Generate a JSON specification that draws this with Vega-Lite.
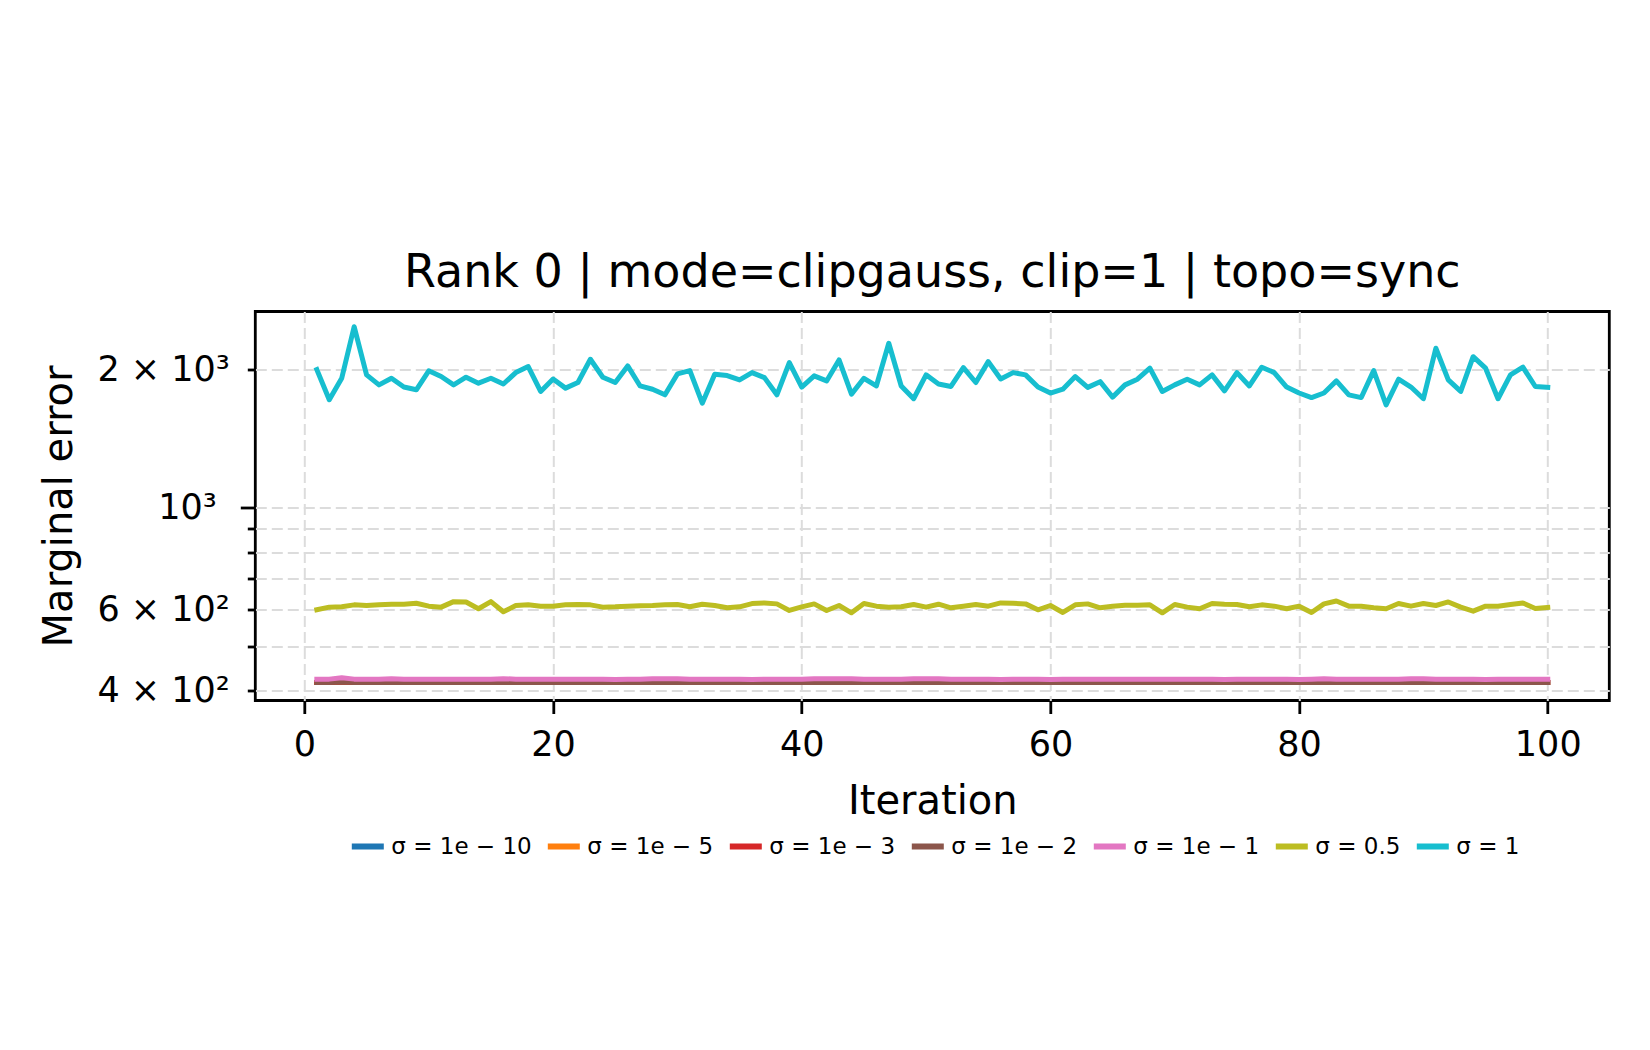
{
"$schema": "https://vega.github.io/schema/vega-lite/v6.json",
"width": 1354, "height": 389,
"autosize": {"type": "none"},
"padding": {"left": 255.3, "top": 311.5, "right": 40.7, "bottom": 349.5},
"background": "white",
"title": {"text": "Rank 0 | mode=clipgauss, clip=1 | topo=sync", "font": "DejaVu Sans", "fontSize": 46, "fontWeight": "normal", "color": "black", "anchor": "middle", "baseline": "alphabetic", "offset": -21.5},
"config": {"view": {"stroke": "black", "strokeWidth": 2.8}, "font": "DejaVu Sans"},
"datasets": {
"d": [
{"i":1,"s":"σ = 1e − 10","v":417},{"i":2,"s":"σ = 1e − 10","v":417},{"i":3,"s":"σ = 1e − 10","v":418},{"i":4,"s":"σ = 1e − 10","v":417},{"i":5,"s":"σ = 1e − 10","v":417},{"i":6,"s":"σ = 1e − 10","v":417},{"i":7,"s":"σ = 1e − 10","v":417},{"i":8,"s":"σ = 1e − 10","v":417},{"i":9,"s":"σ = 1e − 10","v":417},{"i":10,"s":"σ = 1e − 10","v":417},
{"i":11,"s":"σ = 1e − 10","v":417},{"i":12,"s":"σ = 1e − 10","v":417},{"i":13,"s":"σ = 1e − 10","v":417},{"i":14,"s":"σ = 1e − 10","v":417},{"i":15,"s":"σ = 1e − 10","v":417},{"i":16,"s":"σ = 1e − 10","v":417},{"i":17,"s":"σ = 1e − 10","v":417},{"i":18,"s":"σ = 1e − 10","v":417},{"i":19,"s":"σ = 1e − 10","v":417},{"i":20,"s":"σ = 1e − 10","v":417},
{"i":21,"s":"σ = 1e − 10","v":417},{"i":22,"s":"σ = 1e − 10","v":417},{"i":23,"s":"σ = 1e − 10","v":417},{"i":24,"s":"σ = 1e − 10","v":417},{"i":25,"s":"σ = 1e − 10","v":417},{"i":26,"s":"σ = 1e − 10","v":417},{"i":27,"s":"σ = 1e − 10","v":417},{"i":28,"s":"σ = 1e − 10","v":417},{"i":29,"s":"σ = 1e − 10","v":417},{"i":30,"s":"σ = 1e − 10","v":417},
{"i":31,"s":"σ = 1e − 10","v":417},{"i":32,"s":"σ = 1e − 10","v":417},{"i":33,"s":"σ = 1e − 10","v":417},{"i":34,"s":"σ = 1e − 10","v":417},{"i":35,"s":"σ = 1e − 10","v":417},{"i":36,"s":"σ = 1e − 10","v":417},{"i":37,"s":"σ = 1e − 10","v":417},{"i":38,"s":"σ = 1e − 10","v":417},{"i":39,"s":"σ = 1e − 10","v":417},{"i":40,"s":"σ = 1e − 10","v":417},
{"i":41,"s":"σ = 1e − 10","v":417},{"i":42,"s":"σ = 1e − 10","v":417},{"i":43,"s":"σ = 1e − 10","v":417},{"i":44,"s":"σ = 1e − 10","v":417},{"i":45,"s":"σ = 1e − 10","v":417},{"i":46,"s":"σ = 1e − 10","v":417},{"i":47,"s":"σ = 1e − 10","v":417},{"i":48,"s":"σ = 1e − 10","v":417},{"i":49,"s":"σ = 1e − 10","v":417},{"i":50,"s":"σ = 1e − 10","v":417},
{"i":51,"s":"σ = 1e − 10","v":417},{"i":52,"s":"σ = 1e − 10","v":417},{"i":53,"s":"σ = 1e − 10","v":417},{"i":54,"s":"σ = 1e − 10","v":417},{"i":55,"s":"σ = 1e − 10","v":417},{"i":56,"s":"σ = 1e − 10","v":417},{"i":57,"s":"σ = 1e − 10","v":417},{"i":58,"s":"σ = 1e − 10","v":417},{"i":59,"s":"σ = 1e − 10","v":417},{"i":60,"s":"σ = 1e − 10","v":417},
{"i":61,"s":"σ = 1e − 10","v":417},{"i":62,"s":"σ = 1e − 10","v":417},{"i":63,"s":"σ = 1e − 10","v":417},{"i":64,"s":"σ = 1e − 10","v":417},{"i":65,"s":"σ = 1e − 10","v":417},{"i":66,"s":"σ = 1e − 10","v":417},{"i":67,"s":"σ = 1e − 10","v":417},{"i":68,"s":"σ = 1e − 10","v":417},{"i":69,"s":"σ = 1e − 10","v":417},{"i":70,"s":"σ = 1e − 10","v":417},
{"i":71,"s":"σ = 1e − 10","v":417},{"i":72,"s":"σ = 1e − 10","v":417},{"i":73,"s":"σ = 1e − 10","v":417},{"i":74,"s":"σ = 1e − 10","v":417},{"i":75,"s":"σ = 1e − 10","v":417},{"i":76,"s":"σ = 1e − 10","v":417},{"i":77,"s":"σ = 1e − 10","v":417},{"i":78,"s":"σ = 1e − 10","v":417},{"i":79,"s":"σ = 1e − 10","v":417},{"i":80,"s":"σ = 1e − 10","v":417},
{"i":81,"s":"σ = 1e − 10","v":417},{"i":82,"s":"σ = 1e − 10","v":417},{"i":83,"s":"σ = 1e − 10","v":417},{"i":84,"s":"σ = 1e − 10","v":417},{"i":85,"s":"σ = 1e − 10","v":417},{"i":86,"s":"σ = 1e − 10","v":417},{"i":87,"s":"σ = 1e − 10","v":417},{"i":88,"s":"σ = 1e − 10","v":417},{"i":89,"s":"σ = 1e − 10","v":417},{"i":90,"s":"σ = 1e − 10","v":417},
{"i":91,"s":"σ = 1e − 10","v":417},{"i":92,"s":"σ = 1e − 10","v":417},{"i":93,"s":"σ = 1e − 10","v":417},{"i":94,"s":"σ = 1e − 10","v":417},{"i":95,"s":"σ = 1e − 10","v":417},{"i":96,"s":"σ = 1e − 10","v":417},{"i":97,"s":"σ = 1e − 10","v":417},{"i":98,"s":"σ = 1e − 10","v":417},{"i":99,"s":"σ = 1e − 10","v":417},{"i":100,"s":"σ = 1e − 10","v":417},
{"i":1,"s":"σ = 1e − 5","v":417},{"i":2,"s":"σ = 1e − 5","v":417},{"i":3,"s":"σ = 1e − 5","v":418},{"i":4,"s":"σ = 1e − 5","v":417},{"i":5,"s":"σ = 1e − 5","v":417},{"i":6,"s":"σ = 1e − 5","v":417},{"i":7,"s":"σ = 1e − 5","v":417},{"i":8,"s":"σ = 1e − 5","v":417},{"i":9,"s":"σ = 1e − 5","v":417},{"i":10,"s":"σ = 1e − 5","v":417},
{"i":11,"s":"σ = 1e − 5","v":417},{"i":12,"s":"σ = 1e − 5","v":417},{"i":13,"s":"σ = 1e − 5","v":417},{"i":14,"s":"σ = 1e − 5","v":417},{"i":15,"s":"σ = 1e − 5","v":417},{"i":16,"s":"σ = 1e − 5","v":417},{"i":17,"s":"σ = 1e − 5","v":417},{"i":18,"s":"σ = 1e − 5","v":417},{"i":19,"s":"σ = 1e − 5","v":417},{"i":20,"s":"σ = 1e − 5","v":417},
{"i":21,"s":"σ = 1e − 5","v":417},{"i":22,"s":"σ = 1e − 5","v":417},{"i":23,"s":"σ = 1e − 5","v":417},{"i":24,"s":"σ = 1e − 5","v":417},{"i":25,"s":"σ = 1e − 5","v":417},{"i":26,"s":"σ = 1e − 5","v":417},{"i":27,"s":"σ = 1e − 5","v":417},{"i":28,"s":"σ = 1e − 5","v":417},{"i":29,"s":"σ = 1e − 5","v":417},{"i":30,"s":"σ = 1e − 5","v":417},
{"i":31,"s":"σ = 1e − 5","v":417},{"i":32,"s":"σ = 1e − 5","v":417},{"i":33,"s":"σ = 1e − 5","v":417},{"i":34,"s":"σ = 1e − 5","v":417},{"i":35,"s":"σ = 1e − 5","v":417},{"i":36,"s":"σ = 1e − 5","v":417},{"i":37,"s":"σ = 1e − 5","v":417},{"i":38,"s":"σ = 1e − 5","v":417},{"i":39,"s":"σ = 1e − 5","v":417},{"i":40,"s":"σ = 1e − 5","v":417},
{"i":41,"s":"σ = 1e − 5","v":417},{"i":42,"s":"σ = 1e − 5","v":417},{"i":43,"s":"σ = 1e − 5","v":417},{"i":44,"s":"σ = 1e − 5","v":417},{"i":45,"s":"σ = 1e − 5","v":417},{"i":46,"s":"σ = 1e − 5","v":417},{"i":47,"s":"σ = 1e − 5","v":417},{"i":48,"s":"σ = 1e − 5","v":417},{"i":49,"s":"σ = 1e − 5","v":417},{"i":50,"s":"σ = 1e − 5","v":417},
{"i":51,"s":"σ = 1e − 5","v":417},{"i":52,"s":"σ = 1e − 5","v":417},{"i":53,"s":"σ = 1e − 5","v":417},{"i":54,"s":"σ = 1e − 5","v":417},{"i":55,"s":"σ = 1e − 5","v":417},{"i":56,"s":"σ = 1e − 5","v":417},{"i":57,"s":"σ = 1e − 5","v":417},{"i":58,"s":"σ = 1e − 5","v":417},{"i":59,"s":"σ = 1e − 5","v":417},{"i":60,"s":"σ = 1e − 5","v":417},
{"i":61,"s":"σ = 1e − 5","v":417},{"i":62,"s":"σ = 1e − 5","v":417},{"i":63,"s":"σ = 1e − 5","v":417},{"i":64,"s":"σ = 1e − 5","v":417},{"i":65,"s":"σ = 1e − 5","v":417},{"i":66,"s":"σ = 1e − 5","v":417},{"i":67,"s":"σ = 1e − 5","v":417},{"i":68,"s":"σ = 1e − 5","v":417},{"i":69,"s":"σ = 1e − 5","v":417},{"i":70,"s":"σ = 1e − 5","v":417},
{"i":71,"s":"σ = 1e − 5","v":417},{"i":72,"s":"σ = 1e − 5","v":417},{"i":73,"s":"σ = 1e − 5","v":417},{"i":74,"s":"σ = 1e − 5","v":417},{"i":75,"s":"σ = 1e − 5","v":417},{"i":76,"s":"σ = 1e − 5","v":417},{"i":77,"s":"σ = 1e − 5","v":417},{"i":78,"s":"σ = 1e − 5","v":417},{"i":79,"s":"σ = 1e − 5","v":417},{"i":80,"s":"σ = 1e − 5","v":417},
{"i":81,"s":"σ = 1e − 5","v":417},{"i":82,"s":"σ = 1e − 5","v":417},{"i":83,"s":"σ = 1e − 5","v":417},{"i":84,"s":"σ = 1e − 5","v":417},{"i":85,"s":"σ = 1e − 5","v":417},{"i":86,"s":"σ = 1e − 5","v":417},{"i":87,"s":"σ = 1e − 5","v":417},{"i":88,"s":"σ = 1e − 5","v":417},{"i":89,"s":"σ = 1e − 5","v":417},{"i":90,"s":"σ = 1e − 5","v":417},
{"i":91,"s":"σ = 1e − 5","v":417},{"i":92,"s":"σ = 1e − 5","v":417},{"i":93,"s":"σ = 1e − 5","v":417},{"i":94,"s":"σ = 1e − 5","v":417},{"i":95,"s":"σ = 1e − 5","v":417},{"i":96,"s":"σ = 1e − 5","v":417},{"i":97,"s":"σ = 1e − 5","v":417},{"i":98,"s":"σ = 1e − 5","v":417},{"i":99,"s":"σ = 1e − 5","v":417},{"i":100,"s":"σ = 1e − 5","v":417},
{"i":1,"s":"σ = 1e − 3","v":417},{"i":2,"s":"σ = 1e − 3","v":417},{"i":3,"s":"σ = 1e − 3","v":418},{"i":4,"s":"σ = 1e − 3","v":417},{"i":5,"s":"σ = 1e − 3","v":417},{"i":6,"s":"σ = 1e − 3","v":417},{"i":7,"s":"σ = 1e − 3","v":417},{"i":8,"s":"σ = 1e − 3","v":417},{"i":9,"s":"σ = 1e − 3","v":417},{"i":10,"s":"σ = 1e − 3","v":417},
{"i":11,"s":"σ = 1e − 3","v":417},{"i":12,"s":"σ = 1e − 3","v":417},{"i":13,"s":"σ = 1e − 3","v":417},{"i":14,"s":"σ = 1e − 3","v":417},{"i":15,"s":"σ = 1e − 3","v":417},{"i":16,"s":"σ = 1e − 3","v":417},{"i":17,"s":"σ = 1e − 3","v":417},{"i":18,"s":"σ = 1e − 3","v":417},{"i":19,"s":"σ = 1e − 3","v":417},{"i":20,"s":"σ = 1e − 3","v":417},
{"i":21,"s":"σ = 1e − 3","v":417},{"i":22,"s":"σ = 1e − 3","v":417},{"i":23,"s":"σ = 1e − 3","v":417},{"i":24,"s":"σ = 1e − 3","v":417},{"i":25,"s":"σ = 1e − 3","v":417},{"i":26,"s":"σ = 1e − 3","v":417},{"i":27,"s":"σ = 1e − 3","v":417},{"i":28,"s":"σ = 1e − 3","v":417},{"i":29,"s":"σ = 1e − 3","v":417},{"i":30,"s":"σ = 1e − 3","v":417},
{"i":31,"s":"σ = 1e − 3","v":417},{"i":32,"s":"σ = 1e − 3","v":417},{"i":33,"s":"σ = 1e − 3","v":417},{"i":34,"s":"σ = 1e − 3","v":417},{"i":35,"s":"σ = 1e − 3","v":417},{"i":36,"s":"σ = 1e − 3","v":417},{"i":37,"s":"σ = 1e − 3","v":417},{"i":38,"s":"σ = 1e − 3","v":417},{"i":39,"s":"σ = 1e − 3","v":417},{"i":40,"s":"σ = 1e − 3","v":417},
{"i":41,"s":"σ = 1e − 3","v":417},{"i":42,"s":"σ = 1e − 3","v":417},{"i":43,"s":"σ = 1e − 3","v":417},{"i":44,"s":"σ = 1e − 3","v":417},{"i":45,"s":"σ = 1e − 3","v":417},{"i":46,"s":"σ = 1e − 3","v":417},{"i":47,"s":"σ = 1e − 3","v":417},{"i":48,"s":"σ = 1e − 3","v":417},{"i":49,"s":"σ = 1e − 3","v":417},{"i":50,"s":"σ = 1e − 3","v":417},
{"i":51,"s":"σ = 1e − 3","v":417},{"i":52,"s":"σ = 1e − 3","v":417},{"i":53,"s":"σ = 1e − 3","v":417},{"i":54,"s":"σ = 1e − 3","v":417},{"i":55,"s":"σ = 1e − 3","v":417},{"i":56,"s":"σ = 1e − 3","v":417},{"i":57,"s":"σ = 1e − 3","v":417},{"i":58,"s":"σ = 1e − 3","v":417},{"i":59,"s":"σ = 1e − 3","v":417},{"i":60,"s":"σ = 1e − 3","v":417},
{"i":61,"s":"σ = 1e − 3","v":417},{"i":62,"s":"σ = 1e − 3","v":417},{"i":63,"s":"σ = 1e − 3","v":417},{"i":64,"s":"σ = 1e − 3","v":417},{"i":65,"s":"σ = 1e − 3","v":417},{"i":66,"s":"σ = 1e − 3","v":417},{"i":67,"s":"σ = 1e − 3","v":417},{"i":68,"s":"σ = 1e − 3","v":417},{"i":69,"s":"σ = 1e − 3","v":417},{"i":70,"s":"σ = 1e − 3","v":417},
{"i":71,"s":"σ = 1e − 3","v":417},{"i":72,"s":"σ = 1e − 3","v":417},{"i":73,"s":"σ = 1e − 3","v":417},{"i":74,"s":"σ = 1e − 3","v":417},{"i":75,"s":"σ = 1e − 3","v":417},{"i":76,"s":"σ = 1e − 3","v":417},{"i":77,"s":"σ = 1e − 3","v":417},{"i":78,"s":"σ = 1e − 3","v":417},{"i":79,"s":"σ = 1e − 3","v":417},{"i":80,"s":"σ = 1e − 3","v":417},
{"i":81,"s":"σ = 1e − 3","v":417},{"i":82,"s":"σ = 1e − 3","v":417},{"i":83,"s":"σ = 1e − 3","v":417},{"i":84,"s":"σ = 1e − 3","v":417},{"i":85,"s":"σ = 1e − 3","v":417},{"i":86,"s":"σ = 1e − 3","v":417},{"i":87,"s":"σ = 1e − 3","v":417},{"i":88,"s":"σ = 1e − 3","v":417},{"i":89,"s":"σ = 1e − 3","v":417},{"i":90,"s":"σ = 1e − 3","v":417},
{"i":91,"s":"σ = 1e − 3","v":417},{"i":92,"s":"σ = 1e − 3","v":417},{"i":93,"s":"σ = 1e − 3","v":417},{"i":94,"s":"σ = 1e − 3","v":417},{"i":95,"s":"σ = 1e − 3","v":417},{"i":96,"s":"σ = 1e − 3","v":417},{"i":97,"s":"σ = 1e − 3","v":417},{"i":98,"s":"σ = 1e − 3","v":417},{"i":99,"s":"σ = 1e − 3","v":417},{"i":100,"s":"σ = 1e − 3","v":417},
{"i":1,"s":"σ = 1e − 2","v":417},{"i":2,"s":"σ = 1e − 2","v":417},{"i":3,"s":"σ = 1e − 2","v":418},{"i":4,"s":"σ = 1e − 2","v":417},{"i":5,"s":"σ = 1e − 2","v":417},{"i":6,"s":"σ = 1e − 2","v":417},{"i":7,"s":"σ = 1e − 2","v":417},{"i":8,"s":"σ = 1e − 2","v":417},{"i":9,"s":"σ = 1e − 2","v":417},{"i":10,"s":"σ = 1e − 2","v":417},
{"i":11,"s":"σ = 1e − 2","v":417},{"i":12,"s":"σ = 1e − 2","v":417},{"i":13,"s":"σ = 1e − 2","v":417},{"i":14,"s":"σ = 1e − 2","v":417},{"i":15,"s":"σ = 1e − 2","v":417},{"i":16,"s":"σ = 1e − 2","v":417},{"i":17,"s":"σ = 1e − 2","v":417},{"i":18,"s":"σ = 1e − 2","v":417},{"i":19,"s":"σ = 1e − 2","v":417},{"i":20,"s":"σ = 1e − 2","v":417},
{"i":21,"s":"σ = 1e − 2","v":417},{"i":22,"s":"σ = 1e − 2","v":417},{"i":23,"s":"σ = 1e − 2","v":417},{"i":24,"s":"σ = 1e − 2","v":417},{"i":25,"s":"σ = 1e − 2","v":417},{"i":26,"s":"σ = 1e − 2","v":417},{"i":27,"s":"σ = 1e − 2","v":417},{"i":28,"s":"σ = 1e − 2","v":417},{"i":29,"s":"σ = 1e − 2","v":417},{"i":30,"s":"σ = 1e − 2","v":417},
{"i":31,"s":"σ = 1e − 2","v":417},{"i":32,"s":"σ = 1e − 2","v":417},{"i":33,"s":"σ = 1e − 2","v":417},{"i":34,"s":"σ = 1e − 2","v":417},{"i":35,"s":"σ = 1e − 2","v":417},{"i":36,"s":"σ = 1e − 2","v":417},{"i":37,"s":"σ = 1e − 2","v":417},{"i":38,"s":"σ = 1e − 2","v":417},{"i":39,"s":"σ = 1e − 2","v":417},{"i":40,"s":"σ = 1e − 2","v":417},
{"i":41,"s":"σ = 1e − 2","v":417},{"i":42,"s":"σ = 1e − 2","v":417},{"i":43,"s":"σ = 1e − 2","v":417},{"i":44,"s":"σ = 1e − 2","v":417},{"i":45,"s":"σ = 1e − 2","v":417},{"i":46,"s":"σ = 1e − 2","v":417},{"i":47,"s":"σ = 1e − 2","v":417},{"i":48,"s":"σ = 1e − 2","v":417},{"i":49,"s":"σ = 1e − 2","v":417},{"i":50,"s":"σ = 1e − 2","v":417},
{"i":51,"s":"σ = 1e − 2","v":417},{"i":52,"s":"σ = 1e − 2","v":417},{"i":53,"s":"σ = 1e − 2","v":417},{"i":54,"s":"σ = 1e − 2","v":417},{"i":55,"s":"σ = 1e − 2","v":417},{"i":56,"s":"σ = 1e − 2","v":417},{"i":57,"s":"σ = 1e − 2","v":417},{"i":58,"s":"σ = 1e − 2","v":417},{"i":59,"s":"σ = 1e − 2","v":417},{"i":60,"s":"σ = 1e − 2","v":417},
{"i":61,"s":"σ = 1e − 2","v":417},{"i":62,"s":"σ = 1e − 2","v":417},{"i":63,"s":"σ = 1e − 2","v":417},{"i":64,"s":"σ = 1e − 2","v":417},{"i":65,"s":"σ = 1e − 2","v":417},{"i":66,"s":"σ = 1e − 2","v":417},{"i":67,"s":"σ = 1e − 2","v":417},{"i":68,"s":"σ = 1e − 2","v":417},{"i":69,"s":"σ = 1e − 2","v":417},{"i":70,"s":"σ = 1e − 2","v":417},
{"i":71,"s":"σ = 1e − 2","v":417},{"i":72,"s":"σ = 1e − 2","v":417},{"i":73,"s":"σ = 1e − 2","v":417},{"i":74,"s":"σ = 1e − 2","v":417},{"i":75,"s":"σ = 1e − 2","v":417},{"i":76,"s":"σ = 1e − 2","v":417},{"i":77,"s":"σ = 1e − 2","v":417},{"i":78,"s":"σ = 1e − 2","v":417},{"i":79,"s":"σ = 1e − 2","v":417},{"i":80,"s":"σ = 1e − 2","v":417},
{"i":81,"s":"σ = 1e − 2","v":417},{"i":82,"s":"σ = 1e − 2","v":417},{"i":83,"s":"σ = 1e − 2","v":417},{"i":84,"s":"σ = 1e − 2","v":417},{"i":85,"s":"σ = 1e − 2","v":417},{"i":86,"s":"σ = 1e − 2","v":417},{"i":87,"s":"σ = 1e − 2","v":417},{"i":88,"s":"σ = 1e − 2","v":417},{"i":89,"s":"σ = 1e − 2","v":417},{"i":90,"s":"σ = 1e − 2","v":417},
{"i":91,"s":"σ = 1e − 2","v":417},{"i":92,"s":"σ = 1e − 2","v":417},{"i":93,"s":"σ = 1e − 2","v":417},{"i":94,"s":"σ = 1e − 2","v":417},{"i":95,"s":"σ = 1e − 2","v":417},{"i":96,"s":"σ = 1e − 2","v":417},{"i":97,"s":"σ = 1e − 2","v":417},{"i":98,"s":"σ = 1e − 2","v":417},{"i":99,"s":"σ = 1e − 2","v":417},{"i":100,"s":"σ = 1e − 2","v":417},
{"i":1,"s":"σ = 1e − 1","v":424},{"i":2,"s":"σ = 1e − 1","v":424},{"i":3,"s":"σ = 1e − 1","v":427},{"i":4,"s":"σ = 1e − 1","v":424},{"i":5,"s":"σ = 1e − 1","v":424},{"i":6,"s":"σ = 1e − 1","v":424},{"i":7,"s":"σ = 1e − 1","v":425},{"i":8,"s":"σ = 1e − 1","v":424},{"i":9,"s":"σ = 1e − 1","v":424},{"i":10,"s":"σ = 1e − 1","v":424},
{"i":11,"s":"σ = 1e − 1","v":424},{"i":12,"s":"σ = 1e − 1","v":424},{"i":13,"s":"σ = 1e − 1","v":424},{"i":14,"s":"σ = 1e − 1","v":424},{"i":15,"s":"σ = 1e − 1","v":424},{"i":16,"s":"σ = 1e − 1","v":425},{"i":17,"s":"σ = 1e − 1","v":424},{"i":18,"s":"σ = 1e − 1","v":424},{"i":19,"s":"σ = 1e − 1","v":424},{"i":20,"s":"σ = 1e − 1","v":424},
{"i":21,"s":"σ = 1e − 1","v":424},{"i":22,"s":"σ = 1e − 1","v":424},{"i":23,"s":"σ = 1e − 1","v":424},{"i":24,"s":"σ = 1e − 1","v":424},{"i":25,"s":"σ = 1e − 1","v":423},{"i":26,"s":"σ = 1e − 1","v":424},{"i":27,"s":"σ = 1e − 1","v":424},{"i":28,"s":"σ = 1e − 1","v":425},{"i":29,"s":"σ = 1e − 1","v":425},{"i":30,"s":"σ = 1e − 1","v":425},
{"i":31,"s":"σ = 1e − 1","v":424},{"i":32,"s":"σ = 1e − 1","v":424},{"i":33,"s":"σ = 1e − 1","v":424},{"i":34,"s":"σ = 1e − 1","v":424},{"i":35,"s":"σ = 1e − 1","v":424},{"i":36,"s":"σ = 1e − 1","v":423},{"i":37,"s":"σ = 1e − 1","v":424},{"i":38,"s":"σ = 1e − 1","v":424},{"i":39,"s":"σ = 1e − 1","v":424},{"i":40,"s":"σ = 1e − 1","v":424},
{"i":41,"s":"σ = 1e − 1","v":425},{"i":42,"s":"σ = 1e − 1","v":425},{"i":43,"s":"σ = 1e − 1","v":425},{"i":44,"s":"σ = 1e − 1","v":425},{"i":45,"s":"σ = 1e − 1","v":424},{"i":46,"s":"σ = 1e − 1","v":424},{"i":47,"s":"σ = 1e − 1","v":424},{"i":48,"s":"σ = 1e − 1","v":424},{"i":49,"s":"σ = 1e − 1","v":425},{"i":50,"s":"σ = 1e − 1","v":425},
{"i":51,"s":"σ = 1e − 1","v":425},{"i":52,"s":"σ = 1e − 1","v":424},{"i":53,"s":"σ = 1e − 1","v":424},{"i":54,"s":"σ = 1e − 1","v":424},{"i":55,"s":"σ = 1e − 1","v":424},{"i":56,"s":"σ = 1e − 1","v":423},{"i":57,"s":"σ = 1e − 1","v":424},{"i":58,"s":"σ = 1e − 1","v":424},{"i":59,"s":"σ = 1e − 1","v":424},{"i":60,"s":"σ = 1e − 1","v":423},
{"i":61,"s":"σ = 1e − 1","v":424},{"i":62,"s":"σ = 1e − 1","v":424},{"i":63,"s":"σ = 1e − 1","v":424},{"i":64,"s":"σ = 1e − 1","v":424},{"i":65,"s":"σ = 1e − 1","v":424},{"i":66,"s":"σ = 1e − 1","v":424},{"i":67,"s":"σ = 1e − 1","v":424},{"i":68,"s":"σ = 1e − 1","v":424},{"i":69,"s":"σ = 1e − 1","v":424},{"i":70,"s":"σ = 1e − 1","v":424},
{"i":71,"s":"σ = 1e − 1","v":424},{"i":72,"s":"σ = 1e − 1","v":424},{"i":73,"s":"σ = 1e − 1","v":424},{"i":74,"s":"σ = 1e − 1","v":423},{"i":75,"s":"σ = 1e − 1","v":424},{"i":76,"s":"σ = 1e − 1","v":424},{"i":77,"s":"σ = 1e − 1","v":424},{"i":78,"s":"σ = 1e − 1","v":424},{"i":79,"s":"σ = 1e − 1","v":424},{"i":80,"s":"σ = 1e − 1","v":423},
{"i":81,"s":"σ = 1e − 1","v":424},{"i":82,"s":"σ = 1e − 1","v":425},{"i":83,"s":"σ = 1e − 1","v":424},{"i":84,"s":"σ = 1e − 1","v":424},{"i":85,"s":"σ = 1e − 1","v":424},{"i":86,"s":"σ = 1e − 1","v":424},{"i":87,"s":"σ = 1e − 1","v":424},{"i":88,"s":"σ = 1e − 1","v":424},{"i":89,"s":"σ = 1e − 1","v":425},{"i":90,"s":"σ = 1e − 1","v":425},
{"i":91,"s":"σ = 1e − 1","v":424},{"i":92,"s":"σ = 1e − 1","v":424},{"i":93,"s":"σ = 1e − 1","v":424},{"i":94,"s":"σ = 1e − 1","v":424},{"i":95,"s":"σ = 1e − 1","v":423},{"i":96,"s":"σ = 1e − 1","v":424},{"i":97,"s":"σ = 1e − 1","v":424},{"i":98,"s":"σ = 1e − 1","v":424},{"i":99,"s":"σ = 1e − 1","v":424},{"i":100,"s":"σ = 1e − 1","v":424},
{"i":1,"s":"σ = 0.5","v":600},{"i":2,"s":"σ = 0.5","v":608},{"i":3,"s":"σ = 0.5","v":609},{"i":4,"s":"σ = 0.5","v":615},{"i":5,"s":"σ = 0.5","v":613},{"i":6,"s":"σ = 0.5","v":615},{"i":7,"s":"σ = 0.5","v":617},{"i":8,"s":"σ = 0.5","v":617},{"i":9,"s":"σ = 0.5","v":620},{"i":10,"s":"σ = 0.5","v":611},
{"i":11,"s":"σ = 0.5","v":608},{"i":12,"s":"σ = 0.5","v":625},{"i":13,"s":"σ = 0.5","v":624},{"i":14,"s":"σ = 0.5","v":603},{"i":15,"s":"σ = 0.5","v":625},{"i":16,"s":"σ = 0.5","v":594},{"i":17,"s":"σ = 0.5","v":613},{"i":18,"s":"σ = 0.5","v":615},{"i":19,"s":"σ = 0.5","v":611},{"i":20,"s":"σ = 0.5","v":611},
{"i":21,"s":"σ = 0.5","v":615},{"i":22,"s":"σ = 0.5","v":616},{"i":23,"s":"σ = 0.5","v":615},{"i":24,"s":"σ = 0.5","v":608},{"i":25,"s":"σ = 0.5","v":609},{"i":26,"s":"σ = 0.5","v":611},{"i":27,"s":"σ = 0.5","v":612},{"i":28,"s":"σ = 0.5","v":613},{"i":29,"s":"σ = 0.5","v":615},{"i":30,"s":"σ = 0.5","v":616},
{"i":31,"s":"σ = 0.5","v":609},{"i":32,"s":"σ = 0.5","v":617},{"i":33,"s":"σ = 0.5","v":613},{"i":34,"s":"σ = 0.5","v":606},{"i":35,"s":"σ = 0.5","v":609},{"i":36,"s":"σ = 0.5","v":619},{"i":37,"s":"σ = 0.5","v":621},{"i":38,"s":"σ = 0.5","v":618},{"i":39,"s":"σ = 0.5","v":598},{"i":40,"s":"σ = 0.5","v":609},
{"i":41,"s":"σ = 0.5","v":618},{"i":42,"s":"σ = 0.5","v":598},{"i":43,"s":"σ = 0.5","v":613},{"i":44,"s":"σ = 0.5","v":591},{"i":45,"s":"σ = 0.5","v":619},{"i":46,"s":"σ = 0.5","v":611},{"i":47,"s":"σ = 0.5","v":608},{"i":48,"s":"σ = 0.5","v":609},{"i":49,"s":"σ = 0.5","v":616},{"i":50,"s":"σ = 0.5","v":608},
{"i":51,"s":"σ = 0.5","v":617},{"i":52,"s":"σ = 0.5","v":606},{"i":53,"s":"σ = 0.5","v":611},{"i":54,"s":"σ = 0.5","v":616},{"i":55,"s":"σ = 0.5","v":611},{"i":56,"s":"σ = 0.5","v":621},{"i":57,"s":"σ = 0.5","v":620},{"i":58,"s":"σ = 0.5","v":618},{"i":59,"s":"σ = 0.5","v":600},{"i":60,"s":"σ = 0.5","v":613},
{"i":61,"s":"σ = 0.5","v":592},{"i":62,"s":"σ = 0.5","v":615},{"i":63,"s":"σ = 0.5","v":618},{"i":64,"s":"σ = 0.5","v":606},{"i":65,"s":"σ = 0.5","v":611},{"i":66,"s":"σ = 0.5","v":614},{"i":67,"s":"σ = 0.5","v":614},{"i":68,"s":"σ = 0.5","v":615},{"i":69,"s":"σ = 0.5","v":591},{"i":70,"s":"σ = 0.5","v":616},
{"i":71,"s":"σ = 0.5","v":608},{"i":72,"s":"σ = 0.5","v":603},{"i":73,"s":"σ = 0.5","v":619},{"i":74,"s":"σ = 0.5","v":617},{"i":75,"s":"σ = 0.5","v":616},{"i":76,"s":"σ = 0.5","v":609},{"i":77,"s":"σ = 0.5","v":615},{"i":78,"s":"σ = 0.5","v":611},{"i":79,"s":"σ = 0.5","v":603},{"i":80,"s":"σ = 0.5","v":611},
{"i":81,"s":"σ = 0.5","v":592},{"i":82,"s":"σ = 0.5","v":618},{"i":83,"s":"σ = 0.5","v":627},{"i":84,"s":"σ = 0.5","v":611},{"i":85,"s":"σ = 0.5","v":611},{"i":86,"s":"σ = 0.5","v":606},{"i":87,"s":"σ = 0.5","v":603},{"i":88,"s":"σ = 0.5","v":619},{"i":89,"s":"σ = 0.5","v":611},{"i":90,"s":"σ = 0.5","v":619},
{"i":91,"s":"σ = 0.5","v":613},{"i":92,"s":"σ = 0.5","v":624},{"i":93,"s":"σ = 0.5","v":608},{"i":94,"s":"σ = 0.5","v":596},{"i":95,"s":"σ = 0.5","v":611},{"i":96,"s":"σ = 0.5","v":611},{"i":97,"s":"σ = 0.5","v":616},{"i":98,"s":"σ = 0.5","v":621},{"i":99,"s":"σ = 0.5","v":604},{"i":100,"s":"σ = 0.5","v":607},
{"i":1,"s":"σ = 1","v":1997},{"i":2,"s":"σ = 1","v":1717},{"i":3,"s":"σ = 1","v":1912},{"i":4,"s":"σ = 1","v":2475},{"i":5,"s":"σ = 1","v":1945},{"i":6,"s":"σ = 1","v":1850},{"i":7,"s":"σ = 1","v":1912},{"i":8,"s":"σ = 1","v":1830},{"i":9,"s":"σ = 1","v":1805},{"i":10,"s":"σ = 1","v":1985},
{"i":11,"s":"σ = 1","v":1929},{"i":12,"s":"σ = 1","v":1850},{"i":13,"s":"σ = 1","v":1922},{"i":14,"s":"σ = 1","v":1866},{"i":15,"s":"σ = 1","v":1912},{"i":16,"s":"σ = 1","v":1858},{"i":17,"s":"σ = 1","v":1967},{"i":18,"s":"σ = 1","v":2027},{"i":19,"s":"σ = 1","v":1790},{"i":20,"s":"σ = 1","v":1905},
{"i":21,"s":"σ = 1","v":1820},{"i":22,"s":"σ = 1","v":1872},{"i":23,"s":"σ = 1","v":2103},{"i":24,"s":"σ = 1","v":1922},{"i":25,"s":"σ = 1","v":1872},{"i":26,"s":"σ = 1","v":2034},{"i":27,"s":"σ = 1","v":1840},{"i":28,"s":"σ = 1","v":1810},{"i":29,"s":"σ = 1","v":1760},{"i":30,"s":"σ = 1","v":1954},
{"i":31,"s":"σ = 1","v":1987},{"i":32,"s":"σ = 1","v":1688},{"i":33,"s":"σ = 1","v":1952},{"i":34,"s":"σ = 1","v":1938},{"i":35,"s":"σ = 1","v":1896},{"i":36,"s":"σ = 1","v":1967},{"i":37,"s":"σ = 1","v":1918},{"i":38,"s":"σ = 1","v":1760},{"i":39,"s":"σ = 1","v":2068},{"i":40,"s":"σ = 1","v":1830},
{"i":41,"s":"σ = 1","v":1935},{"i":42,"s":"σ = 1","v":1887},{"i":43,"s":"σ = 1","v":2096},{"i":44,"s":"σ = 1","v":1766},{"i":45,"s":"σ = 1","v":1912},{"i":46,"s":"σ = 1","v":1840},{"i":47,"s":"σ = 1","v":2278},{"i":48,"s":"σ = 1","v":1840},{"i":49,"s":"σ = 1","v":1726},{"i":50,"s":"σ = 1","v":1945},
{"i":51,"s":"σ = 1","v":1858},{"i":52,"s":"σ = 1","v":1835},{"i":53,"s":"σ = 1","v":2017},{"i":54,"s":"σ = 1","v":1872},{"i":55,"s":"σ = 1","v":2078},{"i":56,"s":"σ = 1","v":1905},{"i":57,"s":"σ = 1","v":1967},{"i":58,"s":"σ = 1","v":1945},{"i":59,"s":"σ = 1","v":1830},{"i":60,"s":"σ = 1","v":1776},
{"i":61,"s":"σ = 1","v":1810},{"i":62,"s":"σ = 1","v":1929},{"i":63,"s":"σ = 1","v":1827},{"i":64,"s":"σ = 1","v":1880},{"i":65,"s":"σ = 1","v":1740},{"i":66,"s":"σ = 1","v":1850},{"i":67,"s":"σ = 1","v":1903},{"i":68,"s":"σ = 1","v":2011},{"i":69,"s":"σ = 1","v":1790},{"i":70,"s":"σ = 1","v":1850},
{"i":71,"s":"σ = 1","v":1903},{"i":72,"s":"σ = 1","v":1850},{"i":73,"s":"σ = 1","v":1945},{"i":74,"s":"σ = 1","v":1795},{"i":75,"s":"σ = 1","v":1967},{"i":76,"s":"σ = 1","v":1840},{"i":77,"s":"σ = 1","v":2021},{"i":78,"s":"σ = 1","v":1967},{"i":79,"s":"σ = 1","v":1830},{"i":80,"s":"σ = 1","v":1776},
{"i":81,"s":"σ = 1","v":1736},{"i":82,"s":"σ = 1","v":1776},{"i":83,"s":"σ = 1","v":1887},{"i":84,"s":"σ = 1","v":1760},{"i":85,"s":"σ = 1","v":1736},{"i":86,"s":"σ = 1","v":1987},{"i":87,"s":"σ = 1","v":1674},{"i":88,"s":"σ = 1","v":1903},{"i":89,"s":"σ = 1","v":1830},{"i":90,"s":"σ = 1","v":1726},
{"i":91,"s":"σ = 1","v":2222},{"i":92,"s":"σ = 1","v":1896},{"i":93,"s":"σ = 1","v":1790},{"i":94,"s":"σ = 1","v":2130},{"i":95,"s":"σ = 1","v":2011},{"i":96,"s":"σ = 1","v":1726},{"i":97,"s":"σ = 1","v":1945},{"i":98,"s":"σ = 1","v":2021},{"i":99,"s":"σ = 1","v":1835},{"i":100,"s":"σ = 1","v":1827}
]
},
"data": {"name": "d"},
"mark": {"type": "line", "strokeWidth": 5, "strokeJoin": "round", "strokeCap": "square"},
"encoding": {
  "x": {"field": "i", "type": "quantitative",
    "scale": {"domain": [-3.95, 104.95], "nice": false, "zero": false},
    "axis": {"values": [0, 20, 40, 60, 80, 100], "grid": true, "gridDash": [11, 5], "gridColor": "#dcdcdc", "gridWidth": 2,
      "domain": false, "ticks": true, "tickColor": "black", "tickWidth": 2.8, "tickSize": 13,
      "labelFont": "DejaVu Sans", "labelFontSize": 35, "labelColor": "black", "labelPadding": 14, "labelFlush": false, "labelOverlap": false,
      "title": "Iteration", "titleFont": "DejaVu Sans", "titleFontSize": 40, "titleFontWeight": "normal", "titleColor": "black",
      "titleBaseline": "alphabetic", "titleX": 677, "titleY": 113, "titleAlign": "center"}},
  "y": {"field": "v", "type": "quantitative",
    "scale": {"type": "log", "domain": [381, 2671], "nice": false, "zero": false},
    "axis": {"values": [400, 500, 600, 700, 800, 900, 1000, 2000], "grid": true, "gridDash": [11, 5], "gridColor": "#dcdcdc", "gridWidth": 2,
      "domain": false, "ticks": true, "tickColor": "black", "tickWidth": 2.8,
      "tickSize": {"condition": {"test": "datum.value == 1000", "value": 15}, "value": 8},
      "labelPadding": {"condition": {"test": "datum.value == 1000", "value": 24}, "value": 18},
      "labelExpr": "datum.value == 2000 ? '2 × 10³' : datum.value == 1000 ? '10³' : datum.value == 600 ? '6 × 10²' : datum.value == 400 ? '4 × 10²' : ''",
      "labelFont": "DejaVu Sans", "labelFontSize": 35, "labelColor": "black", "labelFlush": false, "labelOverlap": false, "labelBaseline": "middle",
      "title": "Marginal error", "titleFont": "DejaVu Sans", "titleFontSize": 40, "titleFontWeight": "normal", "titleColor": "black",
      "titleBaseline": "alphabetic", "titleAngle": -90, "titleX": -184, "titleY": 194.5, "titleAlign": "center"}},
  "color": {"field": "s", "type": "nominal",
    "scale": {"domain": ["σ = 1e − 10", "σ = 1e − 5", "σ = 1e − 3", "σ = 1e − 2", "σ = 1e − 1", "σ = 0.5", "σ = 1"],
      "range": ["#1f77b4", "#ff7f0e", "#d62728", "#8c564b", "#e377c2", "#bcbd22", "#17becf"]},
    "legend": {"orient": "none", "legendX": 93.5, "legendY": 516, "direction": "horizontal", "columns": 7, "title": null,
      "symbolType": "stroke", "symbolSize": 1024, "symbolStrokeWidth": 6, "labelFont": "DejaVu Sans", "labelFontSize": 23, "labelColor": "black",
      "labelOffset": 4.5, "columnPadding": 4, "padding": 0, "rowPadding": 0, "labelLimit": 400}}
}
}
